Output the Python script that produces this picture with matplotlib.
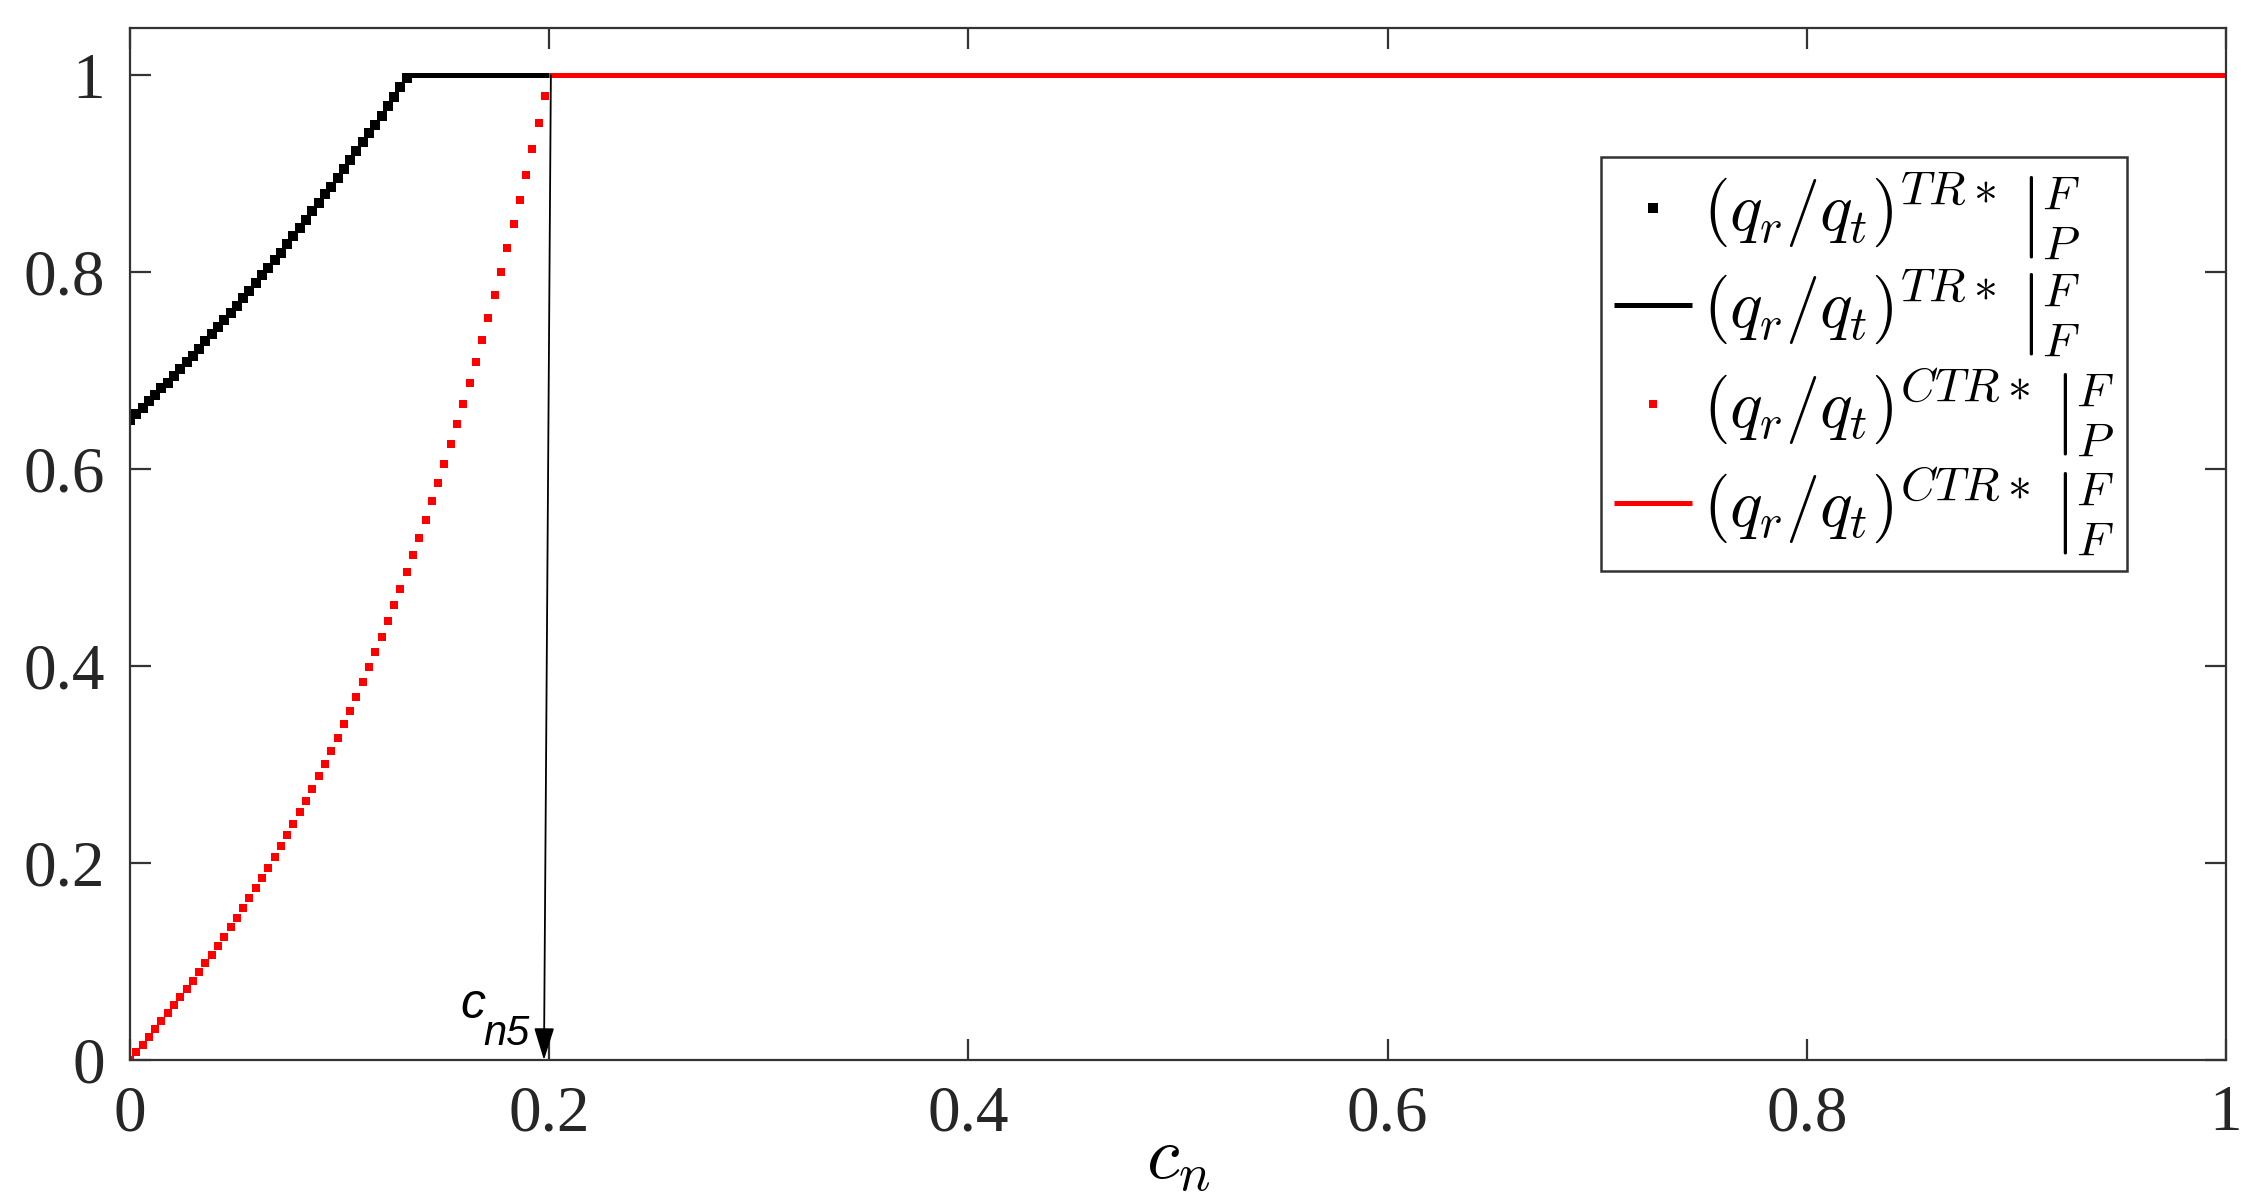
import numpy as np
import matplotlib
matplotlib.use("Agg")
import matplotlib.pyplot as plt

plt.rcParams['mathtext.fontset'] = 'cm'
plt.rcParams['font.family'] = ['Liberation Serif', 'DejaVu Serif']

# ---------------- data ----------------
cn_step = 0.003
# (q_r/q_t)^{TR*}|_P^F  (black dotted), x = 0, 0.003, ..., 0.132
tr_p = [0.650, 0.656, 0.662, 0.669, 0.675, 0.682, 0.688, 0.695, 0.702, 0.709,
        0.715, 0.722, 0.730, 0.737, 0.744, 0.751, 0.759, 0.766, 0.774, 0.781,
        0.789, 0.797, 0.804, 0.812, 0.820, 0.829, 0.837, 0.845, 0.853, 0.862,
        0.870, 0.879, 0.887, 0.896, 0.905, 0.914, 0.923, 0.932, 0.941, 0.950,
        0.959, 0.969, 0.978, 0.988, 0.997]
# (q_r/q_t)^{CTR*}|_P^F  (red dotted), x = 0, 0.003, ..., 0.198
ctr_p = [0.0000, 0.0077, 0.0155, 0.0233, 0.0312, 0.0392, 0.0473, 0.0555, 0.0638, 0.0722,
         0.0807, 0.0893, 0.0981, 0.1071, 0.1162, 0.1254, 0.1348, 0.1444, 0.1542, 0.1641,
         0.1743, 0.1846, 0.1952, 0.2060, 0.2170, 0.2282, 0.2397, 0.2514, 0.2634, 0.2756,
         0.2881, 0.3009, 0.3139, 0.3273, 0.3409, 0.3549, 0.3691, 0.3837, 0.3986, 0.4139,
         0.4295, 0.4454, 0.4617, 0.4783, 0.4954, 0.5128, 0.5306, 0.5487, 0.5673, 0.5863,
         0.6057, 0.6255, 0.6458, 0.6665, 0.6876, 0.7092, 0.7312, 0.7537, 0.7767, 0.8002,
         0.8241, 0.8486, 0.8735, 0.8990, 0.9250, 0.9514, 0.9785]
tr_f_x = [0.133, 0.200]
tr_f_y = [1.0, 1.0]
ctr_f_x = [0.200, 1.0]
ctr_f_y = [1.0, 1.0]

cn5_top = (0.2008, 1.0)
cn5_bottom = (0.1975, 0.0)

xticks = [0, 0.2, 0.4, 0.6, 0.8, 1]
xticklabels = ['0', '0.2', '0.4', '0.6', '0.8', '1']
yticks = [0, 0.2, 0.4, 0.6, 0.8, 1]
yticklabels = ['0', '0.2', '0.4', '0.6', '0.8', '1']

labels = [r'$(q_r/q_t)^{TR*}\,\left|\genfrac{}{}{0}{1}{F}{P}\right.$',
          r'$(q_r/q_t)^{TR*}\,\left|\genfrac{}{}{0}{1}{F}{F}\right.$',
          r'$(q_r/q_t)^{CTR*}\,\left|\genfrac{}{}{0}{1}{F}{P}\right.$',
          r'$(q_r/q_t)^{CTR*}\,\left|\genfrac{}{}{0}{1}{F}{F}\right.$']

tr_x = np.arange(len(tr_p)) * cn_step
ctr_x = np.arange(len(ctr_p)) * cn_step

# ---------------- figure ----------------
fig = plt.figure(figsize=(22.59, 12), dpi=100)
ax = fig.add_axes([130/2259, 1 - 1060/1200, (2226-130)/2259, (1060-28)/1200])

h1, = ax.plot(tr_x, tr_p, linestyle='none', marker='s', ms=6.8, color='black',
              markeredgewidth=0, label=labels[0])
h2, = ax.plot(tr_f_x, tr_f_y, '-', color='black', lw=3.6, label=labels[1],
              solid_capstyle='butt')
h3, = ax.plot(ctr_x, ctr_p, linestyle='none', marker='s', ms=5.6, color='#ff0000',
              markeredgewidth=0, label=labels[2])
h4, = ax.plot(ctr_f_x, ctr_f_y, '-', color='#ff0000', lw=3.6, label=labels[3],
              solid_capstyle='butt')

ax.set_xlim(0, 1)
ax.set_ylim(0, 1.048)
ax.set_xticks(xticks)
ax.set_xticklabels(xticklabels)
ax.set_yticks(yticks)
ax.set_yticklabels(yticklabels)

spine_c = '#333333'
for s in ax.spines.values():
    s.set_color(spine_c)
    s.set_linewidth(1.6)
ax.tick_params(axis='both', which='both', direction='in', length=15, width=1.6,
               colors=spine_c, labelsize=47, top=True, right=True,
               labelcolor='#262626')
ax.tick_params(axis='x', pad=18)
ax.tick_params(axis='y', pad=18)

ax.set_xlabel(r'$c_n$', fontsize=54, labelpad=-12)

# arrow annotation c_{n5}
ax.annotate('', xy=cn5_bottom, xytext=cn5_top,
            arrowprops=dict(arrowstyle='-|>,head_length=0.8,head_width=0.25',
                            lw=1.3, color='black', shrinkA=0, shrinkB=0,
                            mutation_scale=25))
ax.text(0.1574, 0.0426, 'c', fontsize=36, style='italic',
        family=['Liberation Sans', 'DejaVu Sans'], ha='left', va='baseline')
ax.text(0.1684, 0.0152, 'n5', fontsize=30, style='italic',
        family=['Liberation Sans', 'DejaVu Sans'], ha='left', va='baseline')

leg = ax.legend(handles=[h1, h2, h3, h4], loc='upper right',
                bbox_to_anchor=(0.953, 0.875), borderaxespad=0,
                fontsize=49, fancybox=False, framealpha=1, edgecolor=spine_c,
                handlelength=1.15, handletextpad=0.15, labelspacing=0.08,
                borderpad=0.2, markerscale=1.0)
leg.get_frame().set_linewidth(1.8)

fig.savefig('out.png', dpi=100)
